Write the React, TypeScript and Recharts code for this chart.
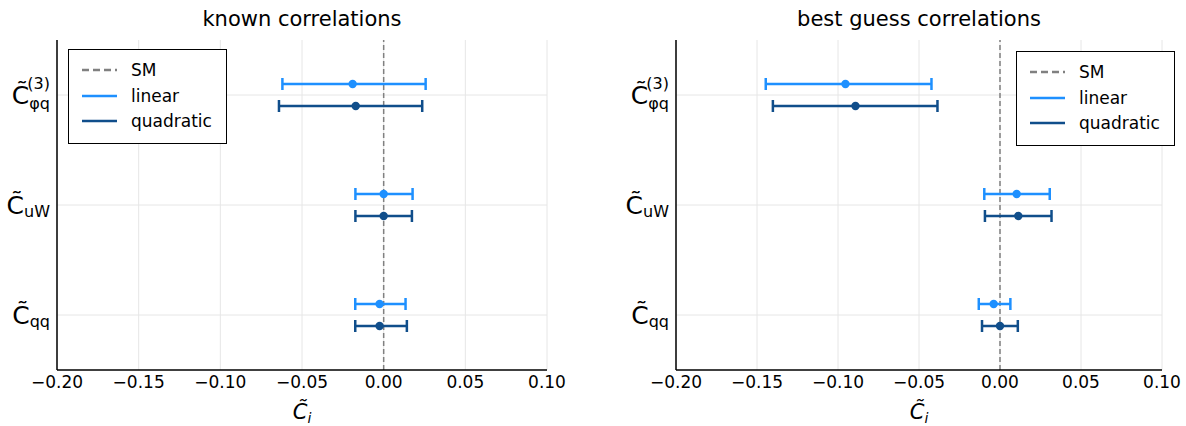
import React from 'react'
import {
  ScatterChart,
  Scatter,
  XAxis,
  YAxis,
  CartesianGrid,
  ErrorBar,
  ReferenceLine,
} from 'recharts'

// coefficients, top to bottom
const coeffKeys = ['phiq', 'uW', 'qq']
const coeffPos = [3, 2, 1]

const xTicks = [-0.2, -0.15, -0.1, -0.05, 0, 0.05, 0.1]

// known correlations
const knownLinear = [-0.019, 0.0, -0.0025]
const knownLinearLo = [-0.062, -0.0173, -0.0174]
const knownLinearHi = [0.0257, 0.0177, 0.0134]
const knownQuad = [-0.0171, 0.0, -0.0025]
const knownQuadLo = [-0.0641, -0.0173, -0.0174]
const knownQuadHi = [0.0236, 0.0173, 0.0142]

// best guess correlations
const guessLinear = [-0.0954, 0.0103, -0.0039]
const guessLinearLo = [-0.1446, -0.0097, -0.0131]
const guessLinearHi = [-0.0423, 0.0307, 0.0064]
const guessQuad = [-0.0892, 0.0113, 0.0]
const guessQuadLo = [-0.1402, -0.0093, -0.0111]
const guessQuadHi = [-0.0386, 0.0318, 0.011]

const LINEAR = '#1E90FF'
const QUAD = '#104E8B'
const FONT = '"DejaVu Sans", sans-serif'
const Y_AXIS_W = 50

function buildRows(vals: number[], lo: number[], hi: number[], shift: number) {
  return vals.map((v, i) => ({
    key: coeffKeys[i],
    x: v,
    y: coeffPos[i] + shift,
    err: [v - lo[i], hi[i] - v],
  }))
}

const fmtTick = (v: number) => {
  const s = Math.abs(v).toFixed(2)
  return v < -1e-9 ? '\u2212' + s : s
}

function YTick(props: any) {
  const { x, y, payload } = props
  const v = payload.value
  const base = 'C\u0303'
  let sub = ''
  let sup = ''
  if (v === 3) {
    sub = 'φq'
    sup = '(3)'
  } else if (v === 2) {
    sub = 'uW'
  } else if (v === 1) {
    sub = 'qq'
  }
  return (
    <g transform={`translate(${x},${y})`} fontFamily={FONT} fill="#000">
      <text x={0} y={9} textAnchor="end" fontSize={25}>
        {base}
        <tspan fontSize={16} dy={sup ? 5 : 3}>
          {sub}
        </tspan>
      </text>
      {sup && (
        <text x={0} y={-6} textAnchor="end" fontSize={16}>
          {sup}
        </text>
      )}
    </g>
  )
}

function XLabel(props: any) {
  const { viewBox } = props
  const cx = viewBox.x + viewBox.width / 2
  return (
    <text x={cx} y={419} textAnchor="middle" fontFamily={FONT} fontSize={21} fontStyle="italic" fill="#000">
      C{'\u0303'}
      <tspan fontSize={14} dy={4}>
        i
      </tspan>
    </text>
  )
}

function LegendBox({ left, top }: { left: number; top: number }) {
  const items = [
    { name: 'SM', color: '#808080', dash: '7 4' },
    { name: 'linear', color: LINEAR, dash: undefined },
    { name: 'quadratic', color: QUAD, dash: undefined },
  ]
  return (
    <div
      style={{
        position: 'absolute',
        left,
        top,
        width: 157,
        height: 93,
        border: '1.5px solid #000',
        background: '#fff',
        fontFamily: FONT,
        fontSize: 17,
      }}
    >
      {items.map((it, i) => (
        <div
          key={it.name}
          style={{ position: 'absolute', left: 0, top: 8 + i * 25.5, height: 24, display: 'flex', alignItems: 'center' }}
        >
          <svg width={62} height={24}>
            <line x1={13} x2={48} y1={12} y2={12} stroke={it.color} strokeWidth={2.5} strokeDasharray={it.dash} />
          </svg>
          <span style={{ color: '#000' }}>{it.name}</span>
        </div>
      ))}
    </div>
  )
}

function Panel(props: {
  title: string
  left: number
  width: number
  plotLeft: number
  marginRight: number
  linear: any[]
  quad: any[]
  legendLeft: number
  legendTop: number
}) {
  const { title, left, width, plotLeft, marginRight, linear, quad } = props
  const plotCenter = plotLeft + (width - plotLeft - marginRight) / 2
  return (
    <div style={{ position: 'absolute', left, top: 0, width, height: 426 }}>
      <div
        style={{
          position: 'absolute',
          left: plotCenter - 200,
          width: 400,
          top: 6,
          textAlign: 'center',
          fontFamily: FONT,
          fontSize: 21,
          color: '#000',
          lineHeight: '26px',
        }}
      >
        {title}
      </div>
      <ScatterChart
        width={width}
        height={426}
        margin={{ top: 40, right: marginRight, bottom: 0, left: plotLeft - Y_AXIS_W }}
      >
        <CartesianGrid stroke="#e6e6e6" strokeWidth={1} horizontalValues={[1, 2, 3]} verticalValues={xTicks} />
        <XAxis
          type="number"
          dataKey="x"
          domain={[-0.2, 0.1]}
          ticks={xTicks}
          allowDataOverflow
          tickFormatter={fmtTick}
          tickLine={false}
          tickSize={0}
          tickMargin={6}
          height={56}
          axisLine={{ stroke: '#000', strokeWidth: 1.5 }}
          tick={{ fontSize: 17, fill: '#000', fontFamily: FONT }}
          label={<XLabel />}
        />
        <YAxis
          type="number"
          dataKey="y"
          domain={[0.5, 3.5]}
          ticks={[1, 2, 3]}
          allowDataOverflow
          width={Y_AXIS_W}
          tickLine={false}
          tickSize={0}
          tickMargin={7}
          axisLine={{ stroke: '#000', strokeWidth: 1.5 }}
          tick={<YTick />}
        />
        <ReferenceLine x={0} stroke="#808080" strokeWidth={1.5} strokeDasharray="5 3" />
        <Scatter
          data={linear}
          isAnimationActive={false}
          shape={(p: any) => <circle cx={p.cx} cy={p.cy} r={4.2} fill={LINEAR} />}
        >
          <ErrorBar dataKey="err" direction="x" width={6} stroke={LINEAR} strokeWidth={2.5} isAnimationActive={false} />
        </Scatter>
        <Scatter
          data={quad}
          isAnimationActive={false}
          shape={(p: any) => <circle cx={p.cx} cy={p.cy} r={4.2} fill={QUAD} />}
        >
          <ErrorBar dataKey="err" direction="x" width={6} stroke={QUAD} strokeWidth={2.5} isAnimationActive={false} />
        </Scatter>
      </ScatterChart>
      <LegendBox left={props.legendLeft} top={props.legendTop} />
    </div>
  )
}

export default function App() {
  const kLin = buildRows(knownLinear, knownLinearLo, knownLinearHi, 0.1)
  const kQuad = buildRows(knownQuad, knownQuadLo, knownQuadHi, -0.1)
  const gLin = buildRows(guessLinear, guessLinearLo, guessLinearHi, 0.1)
  const gQuad = buildRows(guessQuad, guessQuadLo, guessQuadHi, -0.1)
  return (
    <div style={{ position: 'absolute', left: 0, top: 0, width: 1186, height: 426, background: '#fff', overflow: 'hidden' }}>
      <Panel
        title="known correlations"
        left={0}
        width={600}
        plotLeft={57}
        marginRight={53}
        linear={kLin}
        quad={kQuad}
        legendLeft={68}
        legendTop={49}
      />
      <Panel
        title="best guess correlations"
        left={600}
        width={586}
        plotLeft={76}
        marginRight={24}
        linear={gLin}
        quad={gQuad}
        legendLeft={416}
        legendTop={51}
      />
    </div>
  )
}
